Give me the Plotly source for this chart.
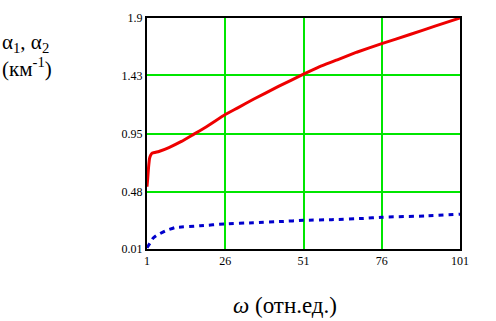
import plotly.graph_objects as go

# Data
omega_red = [1, 1.2, 1.5, 1.8, 2.2, 2.7, 3.5, 5, 8, 12, 16, 20, 26, 30, 35, 43, 51, 56, 62, 68, 76, 85, 93, 101]
alpha1 = [0.52, 0.58, 0.68, 0.75, 0.78, 0.795, 0.80, 0.81, 0.84, 0.89, 0.95, 1.01, 1.11, 1.165, 1.235, 1.34, 1.44, 1.50, 1.56, 1.62, 1.69, 1.765, 1.833, 1.90]

omega_blue = [1, 2, 3, 4, 7, 10, 18, 26, 35, 44, 51, 60, 70, 76, 90, 101]
alpha2 = [0.02, 0.06, 0.10, 0.12, 0.16, 0.185, 0.20, 0.215, 0.225, 0.235, 0.245, 0.25, 0.26, 0.27, 0.28, 0.295]

x_ticks = [1, 26, 51, 76, 101]
y_ticks = [0.01, 0.48, 0.95, 1.43, 1.9]
y_tick_labels = ["0.01", "0.48", "0.95", "1.43", "1.9"]

fig = go.Figure()
fig.add_trace(go.Scatter(x=omega_red, y=alpha1, mode="lines",
                         line=dict(color="#ee0000", width=3, shape="spline", smoothing=0.3),
                         showlegend=False))
fig.add_trace(go.Scatter(x=omega_blue, y=alpha2, mode="lines",
                         line=dict(color="#0000cc", width=3, dash="5px,5px", shape="spline", smoothing=0.4),
                         showlegend=False))

font = dict(family="Liberation Serif", color="black")

fig.update_layout(
    width=496, height=321,
    margin=dict(l=147, r=36, t=18, b=72),
    paper_bgcolor="white", plot_bgcolor="white",
    font=dict(**font, size=12),
    xaxis=dict(range=[1, 101], tickvals=x_ticks, ticktext=[str(v) for v in x_ticks],
               showgrid=True, gridcolor="#00e600", gridwidth=2,
               showline=True, linecolor="black", linewidth=2, mirror=True,
               zeroline=False, ticks="", tickfont=dict(**font, size=12)),
    yaxis=dict(range=[0.01, 1.9], tickvals=y_ticks, ticktext=y_tick_labels,
               showgrid=True, gridcolor="#00e600", gridwidth=2,
               showline=True, linecolor="black", linewidth=2, mirror=True,
               zeroline=False, ticks="", tickfont=dict(**font, size=12)),
    annotations=[
        dict(text="α<sub>1</sub>, α<sub>2</sub><br>(км<sup>-1</sup>)",
             xref="paper", yref="paper", x=-0.47, y=0.955, xanchor="left", yanchor="top",
             showarrow=False, align="left", font=dict(**font, size=21)),
        dict(text="<i>ω</i> (отн.ед.)",
             xref="paper", yref="paper", x=0.44, y=-0.18, xanchor="center", yanchor="top",
             showarrow=False, font=dict(**font, size=23)),
    ],
)

fig.write_html("out.html", config={"displayModeBar": False},
               post_script="document.body.style.margin='0';document.body.style.overflow='hidden';")
